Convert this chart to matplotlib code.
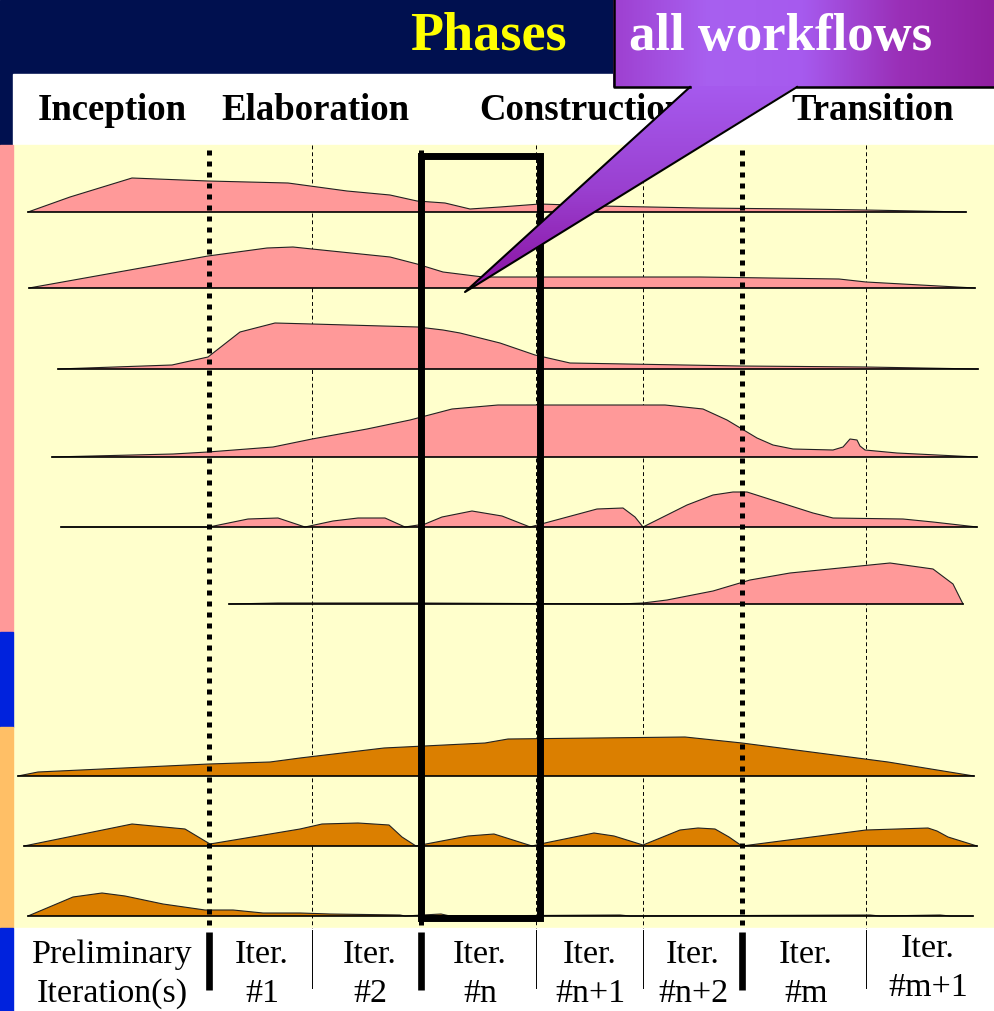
import matplotlib
matplotlib.use("Agg")
import matplotlib.pyplot as plt
import numpy as np
from matplotlib.patches import Rectangle, Polygon
from matplotlib.colors import LinearSegmentedColormap

# phases and iterations along the time axis
phase_names = ["Inception", "Elaboration", "Construction", "Transition"]
phase_x = [112, 315, 582, 873]
phase_bounds = [209, 421, 742]
iter_bounds = [312, 536, 643, 866]
iter_line1 = ["Preliminary", "Iter.", "Iter.", "Iter.", "Iter.", "Iter.", "Iter.", "Iter."]
iter_line2 = ["Iteration(s)", "#1", "#2", "#n", "#n+1", "#n+2", "#m", "#m+1"]
iter_x = [112, 262, 370, 480, 590, 693, 806, 928]

# workload profile of each workflow: time position and effort height
wf_x = [
    [28, 70, 132, 208, 288, 347, 390, 417, 445, 470, 500, 540, 600, 700, 800, 866, 966],
    [29, 208, 267, 293, 312, 390, 417, 443, 483, 600, 700, 839, 866, 975],
    [58, 172, 208, 240, 275, 312, 418, 443, 460, 500, 535, 570, 741, 866, 978],
    [52, 173, 208, 273, 312, 367, 410, 452, 498, 665, 703, 727, 757, 773, 793, 833,
     843, 850, 857, 860, 865, 897, 977],
    [61, 209, 248, 278, 305, 333, 358, 385, 405, 425, 442, 472, 502, 530, 545, 597,
     623, 635, 643, 687, 713, 733, 747, 813, 833, 903, 933, 977],
    [229, 278, 417, 620, 643, 667, 713, 750, 790, 890, 933, 953, 963],
    [18, 38, 209, 270, 300, 384, 485, 508, 685, 742, 888, 974],
    [24, 132, 185, 210, 300, 322, 358, 389, 402, 416, 426, 468, 494, 532, 545, 594,
     614, 643, 680, 698, 715, 729, 742, 866, 928, 937, 948, 977],
    [28, 73, 102, 125, 163, 205, 233, 263, 300, 330, 400, 405, 441, 450, 620, 630,
     870, 880, 940, 950, 973],
]
wf_h = [
    [0, 15, 34, 31, 29, 21, 17, 11, 9, 3, 5, 8, 6, 4, 3, 2, 0],
    [0, 32, 40, 41, 39, 31, 24, 16, 11, 11, 11, 9, 6, 0],
    [0, 4, 12, 37, 46, 45, 42, 39, 36, 26, 14, 6, 3, 2, 0],
    [0, 3, 5, 10, 18, 28, 37, 48, 52, 52, 48, 37, 19, 12, 8, 7,
     10, 18, 17, 11, 7, 4, 0],
    [0, 0, 8, 9, 0, 6, 9, 9, 0, 3, 10, 16, 11, 0, 4, 18,
     19, 10, 0, 22, 32, 35, 35, 14, 9, 8, 5, 0],
    [0, 1, 1, 0, 1, 4, 13, 24, 31, 41, 35, 20, 0],
    [0, 4, 12, 14, 18, 28, 33, 37, 39, 33, 14, 0],
    [0, 22, 17, 2, 17, 22, 23, 21, 9, 0, 2, 10, 12, 0, 3, 13,
     10, 1, 16, 18, 17, 9, 0, 16, 18, 15, 9, 0],
    [0, 19, 23, 20, 12, 6, 6, 3, 3, 2, 1, 0, 2, 0, 1, 0,
     1, 0, 1, 0, 0],
]

# layout (pixel coordinates of the slide)
W, H = 994, 1011
baselines = [212, 288, 369, 457, 527, 604, 776, 846, 916]
fills = ["#FF9999"] * 6 + ["#DB7F00"] * 3

fig = plt.figure(figsize=(W / 100, H / 100), dpi=100)
ax = fig.add_axes([0, 0, 1, 1])
ax.set_xlim(0, W)
ax.set_ylim(H, 0)
ax.axis("off")

serif = "Liberation Serif"

# backgrounds
ax.add_patch(Rectangle((0, 0), W, 145, color="#00104F", zorder=0))
ax.add_patch(Rectangle((13, 74), W - 13, 71, color="white", zorder=1))
ax.add_patch(Rectangle((13, 145), W - 13, 783, color="#FFFFCC", zorder=1))
ax.add_patch(Rectangle((13, 928), W - 13, 83, color="white", zorder=1))
strip = [(145, 632, "#FF9999"), (632, 727, "#0022DD"), (727, 928, "#FFBF66"),
         (928, 1011, "#0022DD")]
for y0, y1, c in strip:
    ax.add_patch(Rectangle((0, y0), 13, y1 - y0, color=c, zorder=1))

# iteration separators
for x in iter_bounds:
    ax.plot([x, x], [145, 928], color="black", lw=0.7, ls=(0, (4, 3)), zorder=2)
    ax.plot([x, x], [930, 988], color="black", lw=0.7, zorder=2)

# workflow humps
for xs, hs, base, c in zip(wf_x, wf_h, baselines, fills):
    xs = np.array(xs)
    top = base - np.array(hs)
    ax.fill_between(xs, base, top, facecolor=c, edgecolor="none", zorder=3)
    ax.plot(xs, top, color="#222222", lw=0.8, zorder=4)
    ax.plot([xs[0], xs[-1]], [base, base], color="black", lw=1.2, zorder=4)

# phase boundaries
for x in phase_bounds:
    ax.plot([x, x], [150, 928], color="black", lw=3.6, ls=(0, (1, 1.2)),
            solid_capstyle="butt", dash_capstyle="butt", zorder=5)
    ax.plot([x, x], [932, 990], color="black", lw=4.8, solid_capstyle="butt", zorder=5)

# highlighted iteration box
ax.add_patch(Rectangle((421, 156), 119, 762, fill=False, edgecolor="black",
                       lw=5, joinstyle="miter", zorder=6))

# texts
ax.text(488, 50, "Phases", color="#FFFF00", fontsize=39, fontweight="bold",
        family=serif, ha="center", va="baseline", zorder=7)
for name, x in zip(phase_names, phase_x):
    ax.text(x, 120, name, fontsize=26.5, fontweight="bold", family=serif,
            ha="center", va="baseline", zorder=2)
for i, (l1, l2, x) in enumerate(zip(iter_line1, iter_line2, iter_x)):
    dy = -6 if i == len(iter_x) - 1 else 0
    ax.text(x, 963 + dy, l1, fontsize=24.5, family=serif, ha="center",
            va="baseline", zorder=7)
    ax.text(x, 1002 + dy, l2, fontsize=24.5, family=serif, ha="center",
            va="baseline", zorder=7)

# callout "all workflows"
box_cmap = LinearSegmentedColormap.from_list(
    "box", ["#9E40D0", "#A860F0", "#A65AEE", "#9A30B8", "#9020A0"])
grad = np.linspace(0, 1, 256)[None, :]
box_poly = Polygon([(613, 0), (W, 0), (W, 87), (613, 87)], closed=True,
                   facecolor="none", edgecolor="none", zorder=8)
ax.add_patch(box_poly)
im = ax.imshow(grad, cmap=box_cmap, extent=(613, W, 87, 0), aspect="auto",
               interpolation="bicubic", zorder=8)
im.set_clip_path(box_poly)

ptr = [(690, 86), (797, 86), (465, 292)]
ptr_poly = Polygon(ptr, closed=True, facecolor="none", edgecolor="none", zorder=8)
ax.add_patch(ptr_poly)
ptr_cmap = LinearSegmentedColormap.from_list("ptr", ["#A65AEE", "#9A40D0", "#8A10A0"])
vgrad = np.linspace(0, 1, 256)[:, None]
im2 = ax.imshow(vgrad, cmap=ptr_cmap, extent=(465, 797, 292, 86), aspect="auto",
                interpolation="bicubic", zorder=8)
im2.set_clip_path(ptr_poly)

ax.plot([614, 614, 690], [0, 87, 87], color="black", lw=1.8, zorder=9)
ax.plot([797, W], [87, 87], color="black", lw=1.8, zorder=9)
ax.plot([690, 465, 797], [87, 292, 87], color="black", lw=1.5, zorder=9)

ax.text(781, 50, "all workflows", color="white", fontsize=38, fontweight="bold",
        family=serif, ha="center", va="baseline", zorder=10)

ax.set_xlim(0, W)
ax.set_ylim(H, 0)
fig.savefig("out.png", dpi=100)
